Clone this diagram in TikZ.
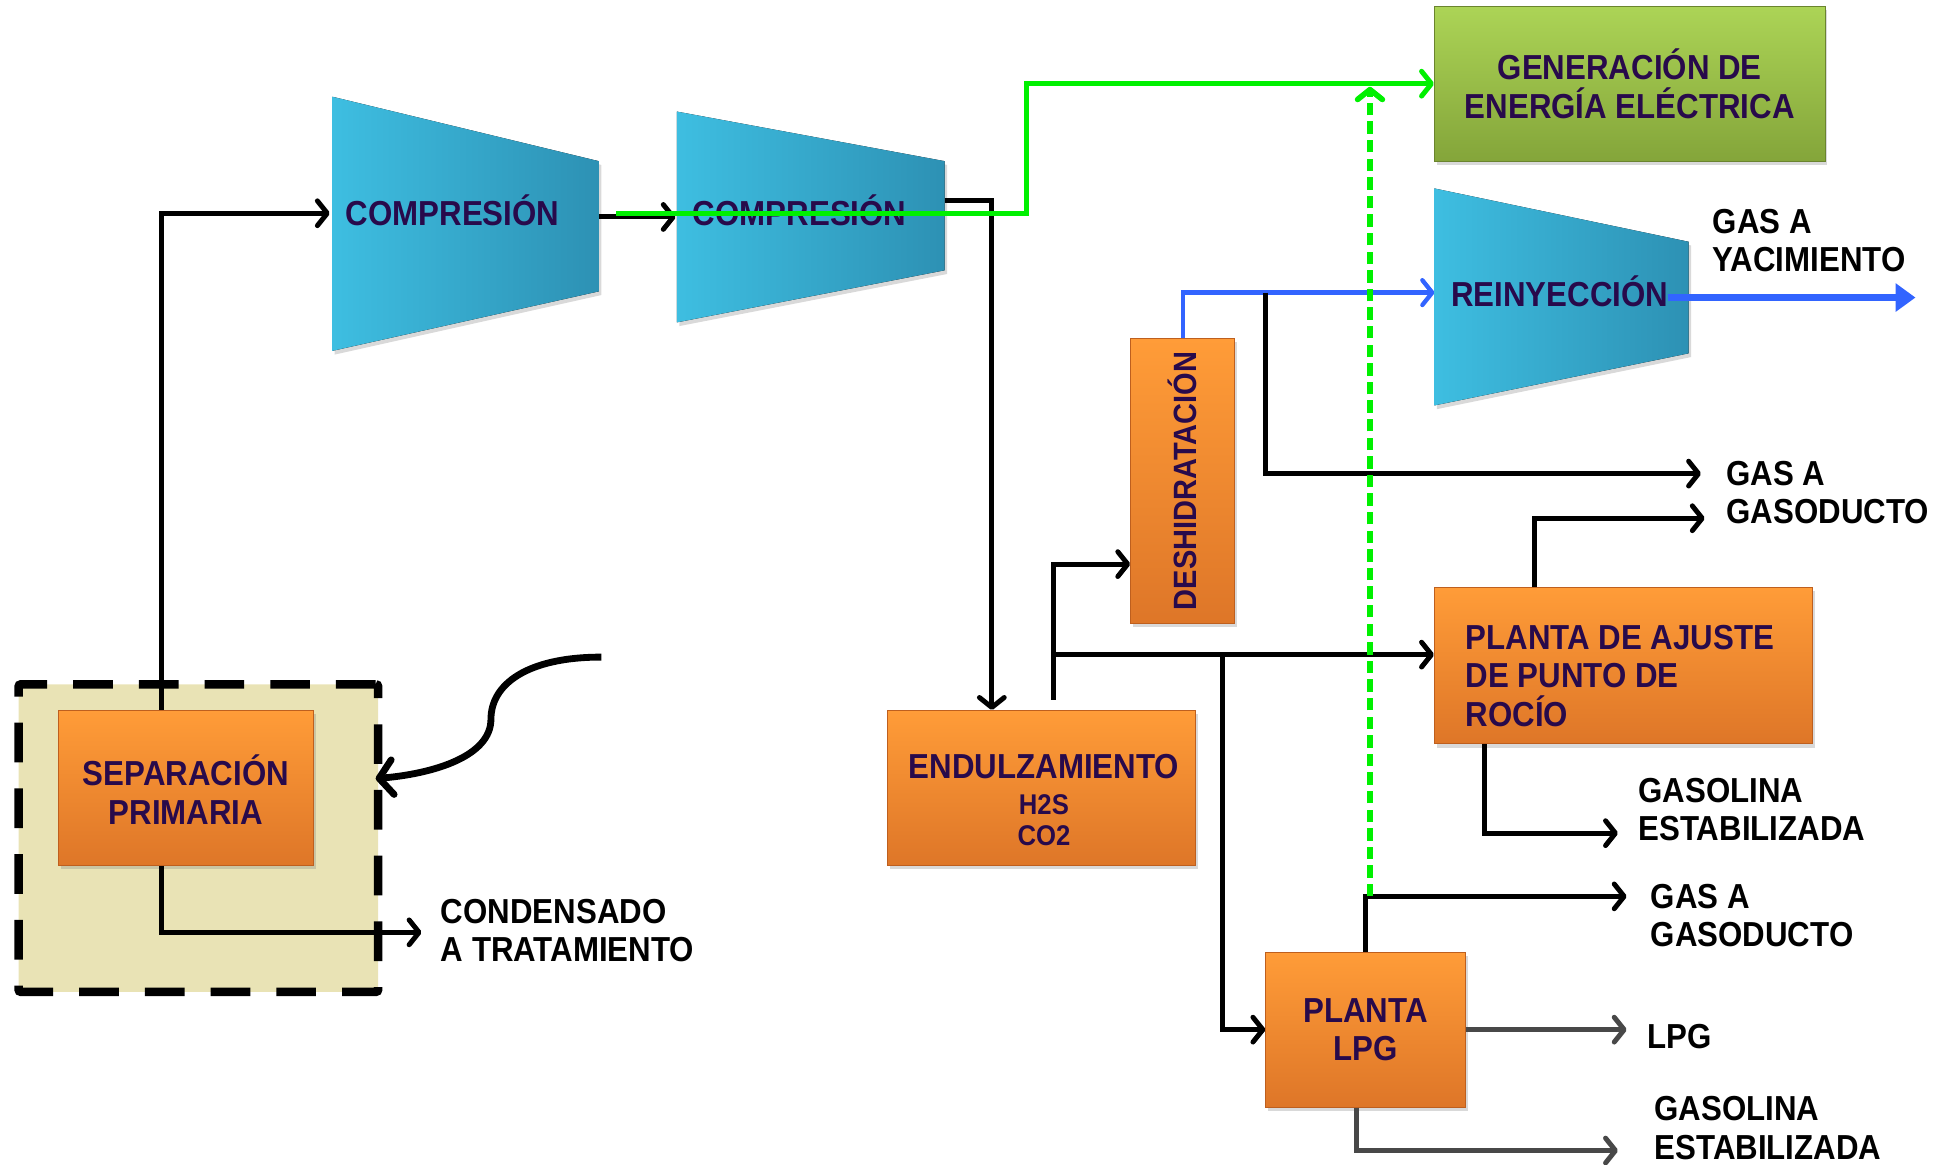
\documentclass[tikz,border=0pt]{standalone}
\usepackage{fontspec}
\setmainfont{Liberation Sans}[FakeStretch=0.9]
\usetikzlibrary{arrows.meta,positioning,calc,shadows}
\definecolor{textPurple}{RGB}{40,10,75}
\definecolor{orangeTop}{RGB}{255,156,56}
\definecolor{orangeBot}{RGB}{222,118,40}
\definecolor{orangeEdge}{RGB}{190,95,30}
\definecolor{compLeft}{RGB}{62,190,225}
\definecolor{compRight}{RGB}{45,145,180}
\definecolor{greenTop}{RGB}{172,212,86}
\definecolor{greenBot}{RGB}{132,165,58}
\definecolor{zoneBg}{RGB}{233,227,181}
\definecolor{elecGreen}{RGB}{0,240,0}
\definecolor{gasBlue}{RGB}{50,100,255}
\definecolor{darkGrey}{RGB}{72,72,72}

\begin{document}
\begin{tikzpicture}[
  x=1pt, y=-1pt,
  font=\fontsize{28}{31}\selectfont\bfseries,
  zone/.style={fill=zoneBg, draw=black, line width=7pt, dash pattern=on 32pt off 21pt, rounded corners=2pt},
  unit/.style={draw=orangeEdge, line width=0.8pt, top color=orangeTop, bottom color=orangeBot, text=textPurple, align=center, inner sep=0pt,
    drop shadow={opacity=0.3, shadow xshift=2pt, shadow yshift=-3pt}},
  power/.style={unit, draw=greenBot!80!black, top color=greenTop, bottom color=greenBot},
  comp/.style={left color=compLeft, right color=compRight, drop shadow={opacity=0.3, shadow xshift=2pt, shadow yshift=-3pt}},
  boxtext/.style={text=textPurple, align=center, inner sep=0pt},
  label/.style={text=black, align=left, anchor=west},
  flow/.style={draw=black, line width=4pt, -{Straight Barb[length=8pt, width=20pt, round]}},
  greyflow/.style={flow, draw=darkGrey},
  elec/.style={flow, draw=elecGreen},
  elecdash/.style={elec, line width=4.5pt, dash pattern=on 10pt off 5pt},
  gasflow/.style={flow, line width=3.5pt, draw=gasBlue},
  gasout/.style={draw=gasBlue, line width=6pt, -{Triangle[length=16pt, width=22pt]}},
  inject/.style={draw=black, line width=5.5pt, -{Straight Barb[length=11pt, width=28pt, round]}}
]
\useasboundingbox (0,0) rectangle (1568,939);

% Separacion
\node[zone, minimum width=290pt, minimum height=248pt] (zona) at (160,676) {};
\node[unit, minimum width=206pt, minimum height=125pt] (sep) at (150,635.5) {};
\node[boxtext] (septxt) at (150,637) {SEPARACIÓN\\PRIMARIA};

% Compresores
\fill[comp] (268,78) -- (483,130) -- (483,235) -- (268,283) -- cycle;
\fill[comp] (546,90) -- (762,130) -- (762,218) -- (546,260) -- cycle;
\fill[comp] (1157,152) -- (1362,195) -- (1362,285) -- (1157,327) -- cycle;
\node[boxtext] (comp1) at (365,170) {COMPRESIÓN};
\node[boxtext] (comp2) at (645,170) {COMPRESIÓN};
\node[boxtext] (reiny) at (1258,235) {REINYECCIÓN};
\coordinate (c1in) at (266,172);
\coordinate (c1out) at (483,175);
\coordinate (c2in) at (545,175);
\coordinate (c2out) at (762,162);
\coordinate (rin) at (1157,236);
\coordinate (rout) at (1345,240);

% Plantas
\node[power, minimum width=315pt, minimum height=125pt] (gen) at (1314.5,67.5) {GENERACIÓN DE\\ENERGÍA ELÉCTRICA};
\node[unit, minimum width=248pt, minimum height=125pt] (endulz) at (840,635.5) {};
\node[boxtext] (endulztxt) at (842,645)
  {ENDULZAMIENTO\\[-2pt]{\fontsize{23}{26}\selectfont H2S}\\[-6pt]{\fontsize{23}{26}\selectfont CO2}};
\node[unit, rotate=90, minimum width=230pt, minimum height=84pt, font=\fontsize{26}{28}\selectfont\bfseries] (deshid) at (954,388) {DESHIDRATACIÓN};
\node[unit, minimum width=305pt, minimum height=126pt] (ajuste) at (1309.5,537) {};
\node[boxtext, align=left, anchor=west] (ajustetxt) at (1182,545) {PLANTA DE AJUSTE\\DE PUNTO DE\\ROCÍO};
\node[unit, minimum width=161pt, minimum height=125pt] (lpg) at (1101.5,830.5) {PLANTA\\LPG};

% Salidas
\node[label] (lyac) at (1378,194) {GAS A\\YACIMIENTO};
\node[label] (lgas1) at (1389,397.5) {GAS A\\GASODUCTO};
\node[label] (lgaso1) at (1318,653) {GASOLINA\\ESTABILIZADA};
\node[label] (lgas2) at (1328,738.5) {GAS A\\GASODUCTO};
\node[label] (llpg) at (1325,836) {LPG};
\node[label] (lgaso2) at (1331,910) {GASOLINA\\ESTABILIZADA};
\node[label] (lcond) at (352,750.5) {CONDENSADO\\A TRATAMIENTO};

\coordinate (yac) at (1545,240);
\coordinate (gas1) at (1372,382);
\coordinate (gas2) at (1375,418);
\coordinate (gaso1) at (1305,672);
\coordinate (gas3) at (1312,723);
\coordinate (lpgout) at (1312,830.5);
\coordinate (gaso2) at (1305,928);
\coordinate (cond) at (340,752);
\coordinate (feed) at (485,530);
\coordinate (jb) at (1021,236);
\coordinate (je) at (850,528);
\coordinate (jl) at (986,528);
\coordinate (jg) at (1105,723);
\coordinate (jgtop) at (1105,70);

% Conexiones
\draw[flow] ($(sep.north)+(-20,0)$) |- (c1in);
\draw[flow] ($(sep.south)+(-20,0)$) |- (cond);
\draw[flow] (c1out) -- (c2in);
\draw[flow] (c2out) -| ($(endulz.north)+(-40,0)$);
\draw[elec] (497,172) -- ++(331,0) |- (gen.west);
\draw[gasflow] (deshid.east) |- (rin);
\draw[gasout] (rout) -- (yac);
\draw[flow] (jb) |- (gas1);
\draw[flow] ($(endulz.north)+(10,-8)$) |- ($(deshid.north)+(0,67)$);
\draw[flow] (je) -- (je -| ajuste.west);
\draw[flow] (jl) |- (lpg.west);
\draw[flow] ($(ajuste.north)+(-72,0)$) |- (gas2);
\draw[flow] ($(ajuste.south)+(-112,0)$) |- (gaso1);
\draw[flow] (lpg.north) |- (gas3);
\draw[greyflow] (lpg.east) -- (lpgout);
\draw[greyflow] ($(lpg.south)+(-7,0)$) |- (gaso2);
\draw[elecdash] (jg) -- (jgtop);
\draw[inject] (feed) .. controls (425,530) and (396,552) .. (396,580)
  .. controls (396,610) and (350,624) .. (303,628);

\end{tikzpicture}
\end{document}
